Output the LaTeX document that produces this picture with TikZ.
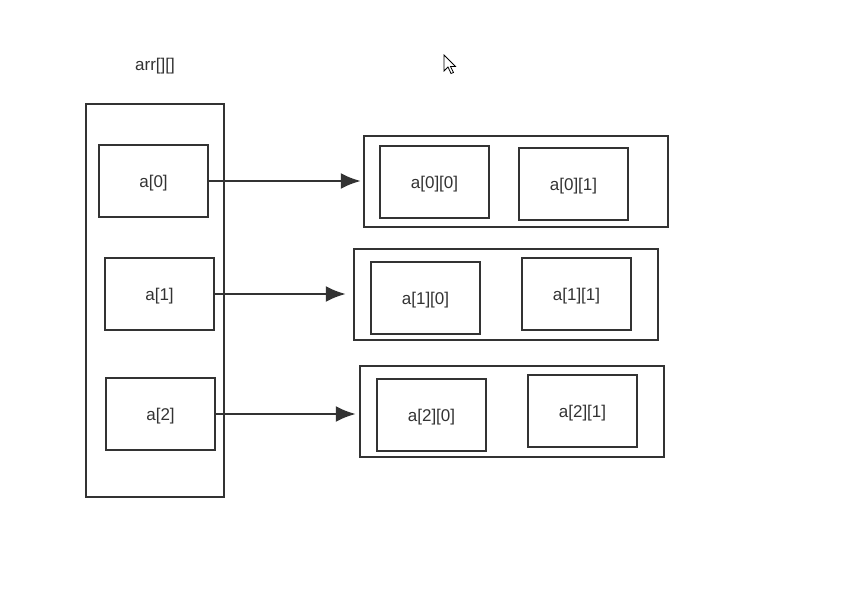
\documentclass[tikz,border=0pt]{standalone}
\usepackage{fontspec}
\setmainfont{Liberation Sans}
\usepackage{tikz}
\usetikzlibrary{arrows.meta}
\usetikzlibrary{positioning}

\definecolor{ink}{HTML}{333333}

\begin{document}
\begin{tikzpicture}[x=0.5pt, y=-0.5pt,
        cell/.style={draw=ink, line width=1.2pt, minimum width=54.5pt, minimum height=36pt, inner sep=0pt, text=ink, text depth=0pt, font=\fontsize{8.5}{10}\selectfont},
        rowbox/.style={draw=ink, line width=1.2pt, minimum width=152pt, minimum height=45.5pt, inner sep=0pt},
        ptr/.style={draw=ink, line width=1.2pt, -{Latex[length=10pt,width=8pt]}}]
        \useasboundingbox[fill=white] (0,0) rectangle (866,592);

        % the array of row pointers
        \node[text=ink, font=\fontsize{8.5}{10}\selectfont] (title) at (155,66) {arr[][]};
        \node[draw=ink, line width=1.2pt, minimum width=69pt, minimum height=196.5pt, inner sep=0pt] (arr) at (155,300.5) {};
        \node[cell] (a0) at (153.5,181) {a[0]};
        \node[cell] (a1) at (159.5,294) {a[1]};
        \node[cell] (a2) at (160.5,414) {a[2]};

        % the rows
        \node[rowbox] (r0) at (516,181.5) {};
        \node[cell] (a00) at (434.5,182) {a[0][0]};
        \node[cell] (a01) at (573.5,184) {a[0][1]};

        \node[rowbox] (r1) at (506,294.5) {};
        \node[cell] (a10) at (425.5,298) {a[1][0]};
        \node[cell] (a11) at (576.5,294) {a[1][1]};

        \node[rowbox] (r2) at (512,411.5) {};
        \node[cell] (a20) at (431.5,415) {a[2][0]};
        \node[cell] (a21) at (582.5,411) {a[2][1]};

        \draw[ptr, shorten >=1pt] (a0.east) -- (a0.east -| r0.west);
        \draw[ptr, shorten >=3.5pt] (a1.east) -- (a1.east -| r1.west);
        \draw[ptr, shorten >=1.5pt] (a2.east) -- (a2.east -| r2.west);

        % mouse pointer
        \draw[fill=white, line width=0.4pt, line join=miter] (444,55) -- (444,71) -- (448,67) -- (451,73.5) -- (453.5,72.5) -- (450.5,66.5) -- (455.5,66.5) -- cycle;
\end{tikzpicture}
\end{document}
